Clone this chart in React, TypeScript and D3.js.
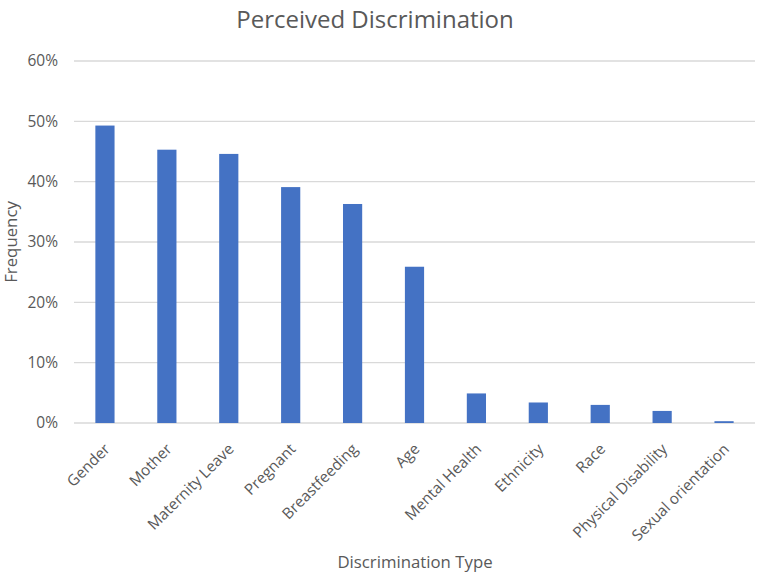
import React from 'react';
import * as d3 from 'd3';

const categories = [
  'Gender',
  'Mother',
  'Maternity Leave',
  'Pregnant',
  'Breastfeeding',
  'Age',
  'Mental Health',
  'Ethnicity',
  'Race',
  'Physical Disability',
  'Sexual orientation',
];
const frequency = [0.493, 0.453, 0.446, 0.391, 0.363, 0.259, 0.049, 0.034, 0.03, 0.02, 0.003];
const yTicks = [0, 0.1, 0.2, 0.3, 0.4, 0.5, 0.6];

const width = 765;
const height = 576;
const margin = { top: 61, right: 10, bottom: 153, left: 74 };
const font = '"Open Sans", "Noto Sans", sans-serif';
const textColor = '#595959';

const App: React.FC = () => {
  const innerW = width - margin.left - margin.right;
  const innerH = height - margin.top - margin.bottom;

  const x = d3.scaleBand().domain(categories).range([0, innerW]).paddingInner(0.69).paddingOuter(0.345);
  const y = d3.scaleLinear().domain([0, 0.6]).range([innerH, 0]);
  const fmt = d3.format('.0%');

  return (
    <svg width={width} height={height} style={{ position: 'absolute', left: 0, top: 0, background: '#fff' }}>
      <text x={375} y={28} textAnchor="middle" fontFamily={font} fontSize={24} fill={textColor}>
        Perceived Discrimination
      </text>
      <g transform={`translate(${margin.left},${margin.top})`}>
        {yTicks.map((t) => (
          <g key={t}>
            <line x1={0} x2={innerW} y1={y(t)} y2={y(t)} stroke="#d9d9d9" strokeWidth={1.3} />
            <text x={-16} y={y(t)} dy="0.35em" textAnchor="end" fontFamily={font} fontSize={15.5} fill={textColor}>
              {fmt(t)}
            </text>
          </g>
        ))}
        {categories.map((c, i) => (
          <rect
            key={c}
            x={x(c)}
            y={y(frequency[i])}
            width={x.bandwidth()}
            height={innerH - y(frequency[i])}
            fill="#4472c4"
          />
        ))}
        {categories.map((c) => {
          const cx = (x(c) as number) + x.bandwidth() / 2;
          return (
            <text
              key={c}
              transform={`translate(${cx + 6},${innerH + 27}) rotate(-45)`}
              textAnchor="end"
              fontFamily={font}
              fontSize={15.3}
              fill={textColor}
            >
              {c}
            </text>
          );
        })}
      </g>
      <text
        transform={`translate(17,${margin.top + innerH / 2}) rotate(-90)`}
        textAnchor="middle"
        fontFamily={font}
        fontSize={16.8}
        fill={textColor}
      >
        Frequency
      </text>
      <text x={415} y={568} textAnchor="middle" fontFamily={font} fontSize={16.8} fill={textColor}>
        Discrimination Type
      </text>
    </svg>
  );
};

export default App;
